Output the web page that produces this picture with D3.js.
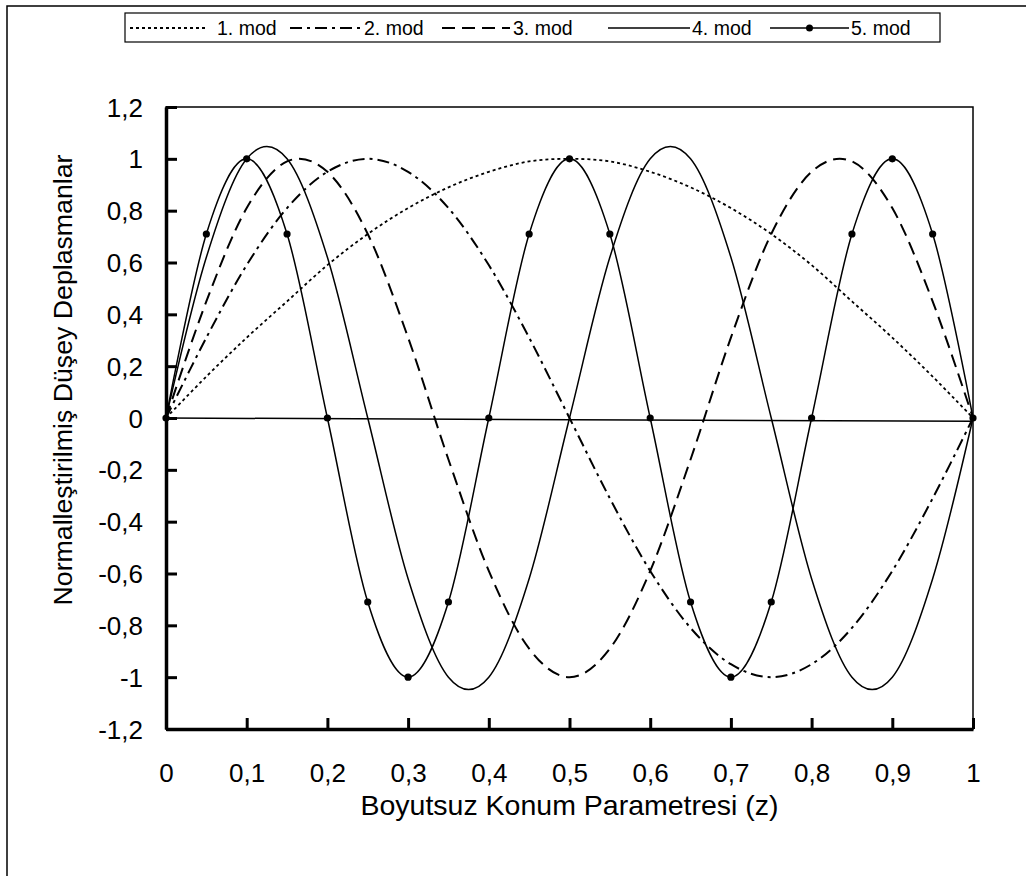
<!DOCTYPE html>
<html><head><meta charset="utf-8">
<script src="https://cdn.jsdelivr.net/npm/d3@7"></script>
<style>body{margin:0;background:#fff}svg{display:block}text{font-family:"Liberation Sans",Arial,sans-serif;fill:#000}</style>
</head><body>
<svg id="c" width="1026" height="876"></svg>
<script>
const zValues = [0,0.05,0.1,0.15,0.2,0.25,0.3,0.35,0.4,0.45,0.5,0.55,0.6,0.65,0.7,0.75,0.8,0.85,0.9,0.95,1];
const mode1 = [0,0.16,0.31,0.45,0.59,0.71,0.81,0.89,0.95,0.99,1,0.99,0.95,0.89,0.81,0.71,0.59,0.45,0.31,0.16,0];
const mode2 = [0,0.31,0.59,0.81,0.95,1,0.95,0.81,0.59,0.31,0,-0.31,-0.59,-0.81,-0.95,-1,-0.95,-0.81,-0.59,-0.31,0];
const mode3 = [0,0.45,0.81,0.99,0.95,0.71,0.31,-0.16,-0.59,-0.89,-1,-0.89,-0.59,-0.16,0.31,0.71,0.95,0.99,0.81,0.45,0];
const mode4 = [0,0.62,1,1,0.62,0,-0.62,-1,-1,-0.62,0,0.62,1,1,0.62,0,-0.62,-1,-1,-0.62,0];
const mode5 = [0,0.71,1,0.71,0,-0.71,-1,-0.71,0,0.71,1,0.71,0,-0.71,-1,-0.71,0,0.71,1,0.71,0];
const baseZ = [0,1];
const baseY = [0,-0.013];
const seriesNames = ["1. mod","2. mod","3. mod","4. mod","5. mod"];
const xTicks = [0,0.1,0.2,0.3,0.4,0.5,0.6,0.7,0.8,0.9,1];
const yTicks = [-1.2,-1,-0.8,-0.6,-0.4,-0.2,0,0.2,0.4,0.6,0.8,1,1.2];
const xTitle = "Boyutsuz Konum Parametresi (z)";
const yTitle = "Normalleştirilmiş Düşey Deplasmanlar";

const svg = d3.select("#c");
const L=166,R=973,T=107,B=729;
const x = d3.scaleLinear().domain([0,1]).range([L,R]);
const y = d3.scaleLinear().domain([-1.2,1.2]).range([B,T]);
const fmt = d => String(+d.toFixed(1)).replace(".",",");

// outer frame
svg.append("path").attr("d","M7,880V6H1030").attr("fill","none").attr("stroke","#000").attr("stroke-width",1.5);

// plot border
svg.append("rect").attr("x",L).attr("y",T).attr("width",R-L).attr("height",B-T)
  .attr("fill","none").attr("stroke","#000").attr("stroke-width",1.5);

// axes
const yAxis = d3.axisLeft(y).tickValues(yTicks).tickFormat(fmt).tickSizeInner(-11).tickSizeOuter(0).tickPadding(23);
const gy = svg.append("g").attr("transform",`translate(${L},0)`).call(yAxis);
const xAxis = d3.axisBottom(x).tickValues(xTicks).tickFormat(fmt).tickSizeInner(-11).tickSizeOuter(0);
const gx = svg.append("g").attr("transform",`translate(0,${B})`).call(xAxis);
[gx,gy].forEach(g=>{
  g.select(".domain").attr("stroke","#000").attr("stroke-width",3.5);
  g.selectAll(".tick line").attr("stroke","#000").attr("stroke-width",3);
  g.selectAll(".tick text").style("font-size","26px").style("font-family","Liberation Sans, Arial, sans-serif");
});
gy.selectAll(".tick text").attr("dy","0.35em");
gx.selectAll(".tick text").attr("y",53).attr("dy",0);

// titles
svg.append("text").attr("x",(L+R)/2).attr("y",815).attr("text-anchor","middle").style("font-size","28.5px").text(xTitle);
svg.append("text").attr("transform",`translate(72,380) rotate(-90)`).attr("text-anchor","middle").style("font-size","26.7px").text(yTitle);

const styles = [
  {data:mode1, dash:"3,3", w:1.8},
  {data:mode2, dash:"12,5,3,5", w:2},
  {data:mode3, dash:"13,7", w:2},
  {data:mode4, dash:null, w:1.5},
  {data:mode5, dash:null, w:1.5, marker:true}
];
const line = d3.line().x(d=>x(d[0])).y(d=>y(d[1])).curve(d3.curveCardinal.tension(0));
const plot = svg.append("g");
// baseline series
plot.append("path").attr("d",d3.line().x(d=>x(d[0])).y(d=>y(d[1]))(baseZ.map((z,i)=>[z,baseY[i]])))
  .attr("fill","none").attr("stroke","#000").attr("stroke-width",1.5);
styles.forEach(s=>{
  const pts = zValues.map((z,i)=>[z,s.data[i]]);
  plot.append("path").attr("d",line(pts)).attr("fill","none").attr("stroke","#000")
    .attr("stroke-width",s.w).attr("stroke-dasharray",s.dash);
  if(s.marker){
    plot.selectAll(null).data(pts).join("circle").attr("cx",d=>x(d[0])).attr("cy",d=>y(d[1])).attr("r",3.6).attr("fill","#000");
  }
});

// legend
const lg = svg.append("g");
lg.append("rect").attr("x",125).attr("y",13).attr("width",815).attr("height",29).attr("fill","#fff").attr("stroke","#000").attr("stroke-width",1.2);
const items = [
  {x1:130,x2:206,tx:217},
  {x1:290,x2:362,tx:364},
  {x1:442,x2:510,tx:513},
  {x1:608,x2:690,tx:692},
  {x1:770,x2:849,tx:851}
];
items.forEach((it,i)=>{
  const s = styles[i];
  lg.append("line").attr("x1",it.x1).attr("x2",it.x2).attr("y1",28).attr("y2",28).attr("stroke","#000")
    .attr("stroke-width",s.dash?2:1.3).attr("stroke-dasharray",s.dash);
  if(s.marker) lg.append("circle").attr("cx",(it.x1+it.x2)/2).attr("cy",28).attr("r",3.5).attr("fill","#000");
  lg.append("text").attr("x",it.tx).attr("y",35).style("font-size","19.5px").text(seriesNames[i]);
});
</script>
</body></html>
